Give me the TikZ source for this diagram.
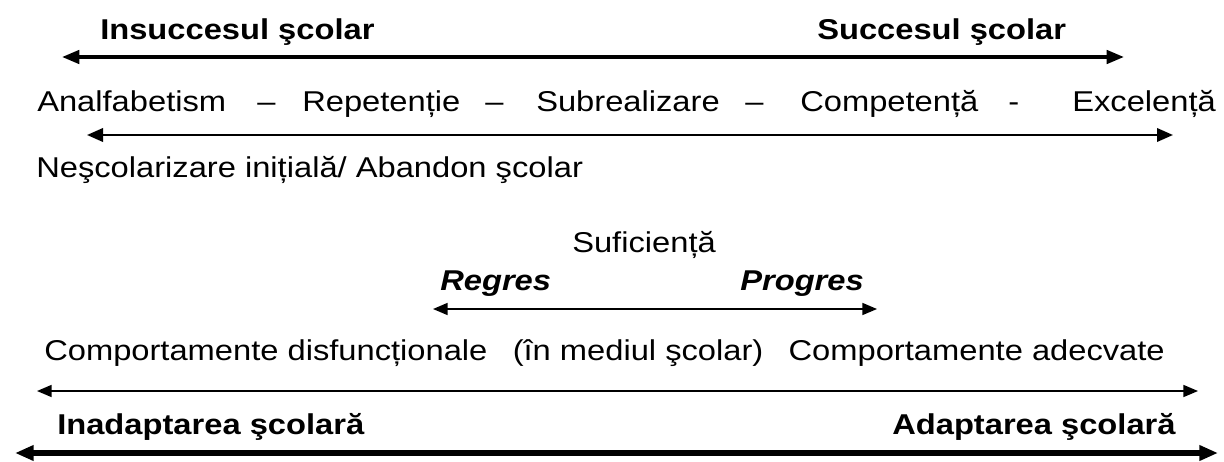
\documentclass[tikz,border=0pt]{standalone}
\usepackage{fontspec}
\setmainfont[FakeStretch=1.14]{Liberation Sans}
\usetikzlibrary{arrows.meta}
\begin{document}
\begin{tikzpicture}[x=0.75pt,y=-0.75pt,
  lbl/.style={anchor=base west,inner sep=0pt,font=\fontsize{21.5}{25}\selectfont},
  blbl/.style={lbl,font=\fontsize{21.5}{25}\selectfont\bfseries},
  bilbl/.style={lbl,font=\fontsize{21.5}{25}\selectfont\bfseries\itshape},
  thick arrow/.style={line width=2.7pt,{Triangle[length=13pt,width=10pt]}-{Triangle[length=13pt,width=10pt]}},
  mid arrow/.style={line width=1.9pt,{Triangle[length=12pt,width=10pt]}-{Triangle[length=12pt,width=10pt]}},
  thin arrow/.style={line width=1.2pt,{Triangle[length=11pt,width=9pt]}-{Triangle[length=11pt,width=9pt]}},
  heavy arrow/.style={line width=3.8pt,{Triangle[length=14pt,width=11pt]}-{Triangle[length=14pt,width=11pt]}}]
\useasboundingbox (0,0) rectangle (1224,461);
% row 1
\node[blbl] (insucc) at (100,39) {Insuccesul şcolar};
\node[blbl] (succ) at (817,39) {Succesul şcolar};
\coordinate (a1l) at (62,57);
\coordinate (a1r) at (1124,57);
\draw[thick arrow] (a1l) -- (a1r);
% row 2
\node[lbl] (w1) at (37,111) {Analfabetism};
\node[lbl] (d1) at (257,111) {–};
\node[lbl] (w2) at (302,111) {Repetenție};
\node[lbl] (d2) at (485,111) {–};
\node[lbl] (w3) at (536,111) {Subrealizare};
\node[lbl] (d3) at (745,111) {–};
\node[lbl] (w4) at (800,111) {Competență};
\node[lbl] (d4) at (1008,111) {-};
\node[lbl] (w5) at (1072,111) {Excelență};
\coordinate (a2l) at (87,135);
\coordinate (a2r) at (1173,135);
\draw[mid arrow] (a2l) -- (a2r);
\node[lbl] (nesc) at (36,177) {Neşcolarizare inițială/ Abandon şcolar};
% row 3
\node[lbl] (suf) at (572,252) {Suficiență};
\node[bilbl] (regr) at (440,290) {Regres};
\node[bilbl] (progr) at (740,290) {Progres};
\coordinate (a3l) at (433,309);
\coordinate (a3r) at (877,309);
\draw[thin arrow] (a3l) -- (a3r);
% row 4
\node[lbl] (comp) at (44,360) {Comportamente disfuncționale\hspace{19pt}(în mediul şcolar)\hspace{19pt}Comportamente adecvate};
\coordinate (a4l) at (37,391);
\coordinate (a4r) at (1198,391);
\draw[thin arrow] (a4l) -- (a4r);
% row 5
\node[blbl] (inad) at (57,434) {Inadaptarea şcolară};
\node[blbl] (adap) at (892,434) {Adaptarea şcolară};
\coordinate (a5l) at (15,453);
\coordinate (a5r) at (1218,453);
\draw[heavy arrow] (a5l) -- (a5r);
\end{tikzpicture}
\end{document}
